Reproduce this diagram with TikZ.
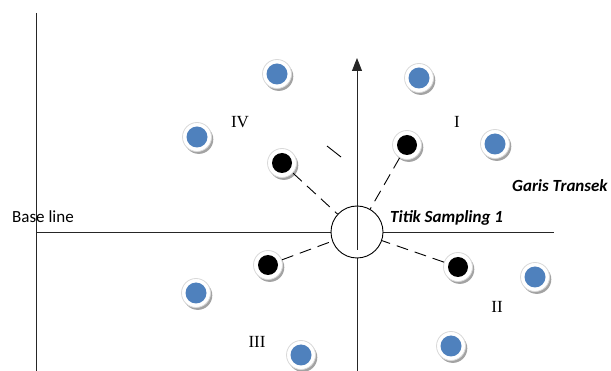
\documentclass[tikz,border=0pt]{standalone}
\usepackage{fontspec}
\setmainfont{Liberation Serif}
\newfontfamily\calib{Carlito}
\usetikzlibrary{arrows.meta,shadows}

\begin{document}
\begin{tikzpicture}[x=1pt,y=-1pt]
\tikzset{
  halo/.style={circle, fill=white, draw=black!15, line width=0.8pt, minimum size=29pt, inner sep=0pt,
    drop shadow={shadow xshift=1.8pt, shadow yshift=-2.4pt, fill=black!45, opacity=0.8}},
  bluedot/.style={circle, fill={rgb,255:red,79;green,129;blue,189}, minimum size=21pt, inner sep=0pt},
  blackdot/.style={circle, fill=black, minimum size=20pt, inner sep=0pt},
  axis/.style={line width=0.9pt, draw=black!85},
  transek/.style={dash pattern=on 12pt off 7pt, line width=0.9pt},
  quad/.style={font=\fontsize{17}{17}\selectfont},
  label/.style={font=\calib\fontsize{17}{17}\selectfont, inner sep=0pt, anchor=base west},
  title/.style={font=\calib\bfseries\itshape\fontsize{17}{17}\selectfont, inner sep=0pt, anchor=base west}
}
\useasboundingbox (0,0) rectangle (611,371);

% axes
\coordinate (top) at (36,13);
\coordinate (bot) at (36,371);
\coordinate (end) at (554,232);
\coordinate (up) at (357,58);
\coordinate (down) at (357,371);
\draw[axis] (top) -- (bot);
\draw[axis] (36,232) -- (end);
\draw[axis, -{Triangle[length=13pt,width=10pt]}] (down) -- (up);
\node[circle, draw, fill=white, line width=0.9pt, minimum size=52pt, inner sep=0pt] (titik) at (357,232) {};
\coordinate (inner) at (357,250);
\draw[axis] (titik.north) -- (inner);

% blue samples
\foreach \n/\x/\y in {b1/277/74, b2/419/78, b3/197/137, b4/495/144,
                      b5/196/293, b6/535/277, b7/301/355, b8/451/346} {
  \node[halo] (\n h) at (\x,\y) {};
  \node[bluedot] (\n) at (\x,\y) {};
}

% black samples
\foreach \n/\x/\y in {k1/282/163, k2/407/145, k3/268/265, k4/458/267} {
  \node[halo] (\n h) at (\x,\y) {};
  \node[blackdot] (\n) at (\x,\y) {};
  \draw[transek] (\n h) -- (titik);
}
\coordinate (s1) at (327,146);
\coordinate (s2) at (341,157);
\draw[line width=0.9pt] (s1) -- (s2);

% labels
\node[quad] (q1) at (457,122) {I};
\node[quad] (q2) at (497,307) {II};
\node[quad] (q3) at (257,342) {III};
\node[quad] (q4) at (240,122) {IV};
\node[label] (base) at (12,223) {Base line};
\node[title] (ts) at (390,223) {Titik Sampling 1};
\node[title] (gt) at (512,192) {Garis Transek};
\end{tikzpicture}
\end{document}
